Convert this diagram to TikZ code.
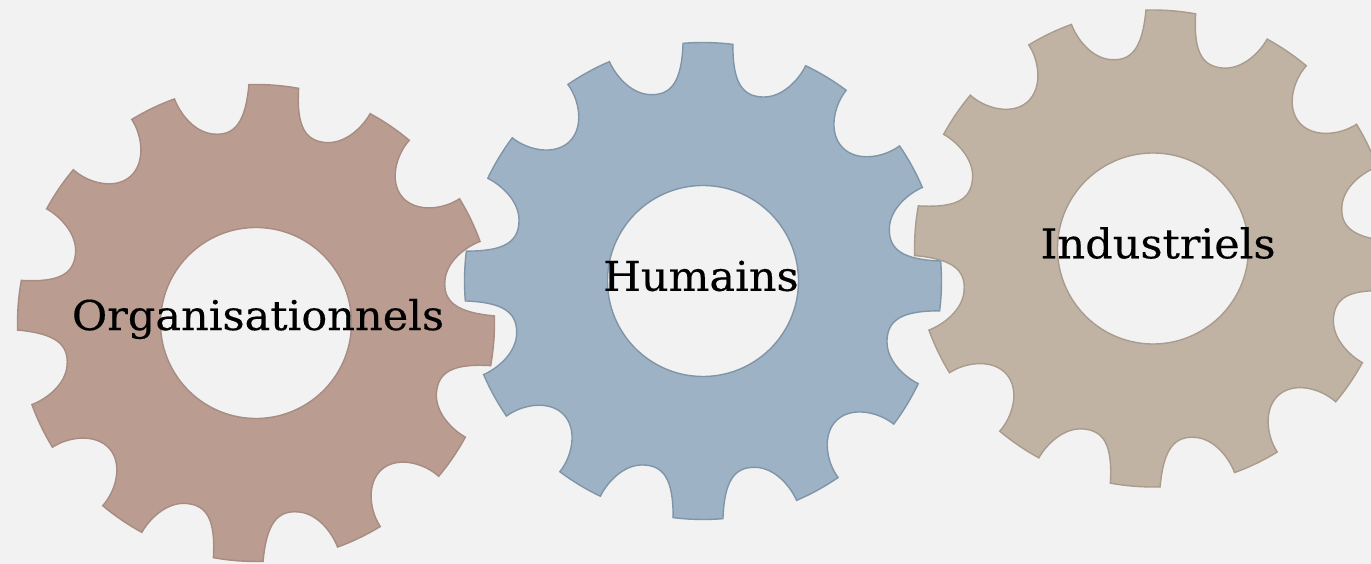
\documentclass[tikz,border=0pt]{standalone}
\usepackage{fontspec}
\setmainfont[FakeBold=0.35]{DejaVu Serif}
\definecolor{bgc}{HTML}{F2F2F2}
\definecolor{gearA}{HTML}{BA9C90}
\definecolor{gearB}{HTML}{9DB2C4}
\definecolor{gearC}{HTML}{C0B3A3}
\definecolor{edgeA}{HTML}{A68C82}
\definecolor{edgeB}{HTML}{8095A7}
\definecolor{edgeC}{HTML}{A99C8D}
\def\Ro{238.5}
\newcommand{\gearshape}[6]{%
  \begin{scope}[shift={(#1,#2)},rotate=-#3]
  \path[fill=#4,draw=#5,even odd rule,line width=1.4pt,line join=miter]
    (84:\Ro)
    \foreach \r in {0,-90,-180,-270}{
      .. controls ([rotate=\r]25.5,198) and ([rotate=\r]36,185.3) .. ([rotate=\r]56,185.2)
      .. controls ([rotate=\r]76,185) and ([rotate=\r]92,204) .. ([rotate=\r]65.7:\Ro)
      arc[start angle=65.7+\r,end angle=54.3+\r,radius=\Ro pt]
      .. controls ([rotate=\r]127,178) and ([rotate=\r]122,151) .. ([rotate=\r]136.5,136.5)
      .. controls ([rotate=\r]151,122) and ([rotate=\r]178,127) .. ([rotate=\r]35.7:\Ro)
      arc[start angle=35.7+\r,end angle=24.3+\r,radius=\Ro pt]
      .. controls ([rotate=\r]204,92) and ([rotate=\r]185,76) .. ([rotate=\r]185.2,56)
      .. controls ([rotate=\r]185.3,36) and ([rotate=\r]198,25.5) .. ([rotate=\r]6:\Ro)
      arc[start angle=6+\r,end angle=-6+\r,radius=\Ro pt]
    }
    -- cycle
    (0,0) circle[radius=#6 pt];
  \end{scope}
}
\tikzset{gearlabel/.style={font=\fontsize{41}{41}\selectfont,text=black,inner sep=0pt,anchor=center,xscale=1.05}}
\begin{document}
\begin{tikzpicture}[x=1pt,y=1pt]
\useasboundingbox (0,0) rectangle (1371,564);
\fill[bgc] (0,0) rectangle (1371,564);
\clip (0,0) rectangle (1371,564);
\gearshape{1153}{315.5}{4.3}{gearC}{edgeC}{95.5}
\gearshape{703}{283}{1.2}{gearB}{edgeB}{95.5}
\gearshape{256}{241}{4.3}{gearA}{edgeA}{95.5}
\node[gearlabel] (org) at (258,245) {Organisationnels};
\node[gearlabel] (hum) at (701,288) {Humains};
\node[gearlabel] (ind) at (1158,321) {Industriels};
\end{tikzpicture}
\end{document}
